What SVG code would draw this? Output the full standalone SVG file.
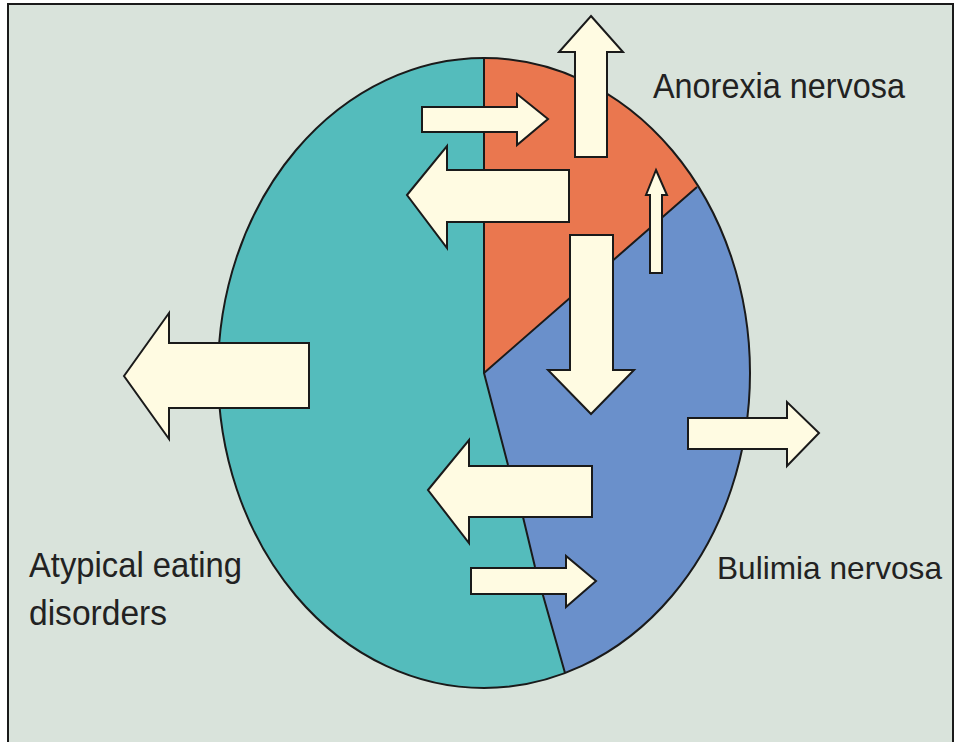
<svg xmlns="http://www.w3.org/2000/svg" width="955" height="742" viewBox="0 0 955 742">
  <defs>
    <clipPath id="oval">
      <ellipse cx="484" cy="373" rx="266" ry="315"/>
    </clipPath>
    <style>
      .lbl { font-family: "Liberation Sans", Arial, sans-serif; font-size: 35px; fill: #222; }
      .arrow { fill: #fffbe2; stroke: #1a1a1a; stroke-width: 2; stroke-linejoin: miter; }
      .edge { fill: none; stroke: #1a1a1a; stroke-width: 2; stroke-linejoin: round; }
    </style>
  </defs>
  <rect x="0" y="0" width="955" height="742" fill="#ffffff"/>
  <rect x="8" y="4" width="945" height="742" fill="#d9e3db"/>
  <path d="M8,742 V4 H953 V742" fill="none" stroke="#1a1a1a" stroke-width="2"/>

  <g id="atypical">
    <ellipse cx="484" cy="373" rx="266" ry="315" fill="#54bcbc"/>
    <text class="lbl" x="29" y="577" textLength="213" lengthAdjust="spacingAndGlyphs">Atypical eating</text>
    <text class="lbl" x="29" y="625" textLength="138" lengthAdjust="spacingAndGlyphs">disorders</text>
  </g>
  <g id="anorexia">
    <polygon points="484,0 484,373 900,10 900,0" fill="#ea774f" clip-path="url(#oval)"/>
    <text class="lbl" x="653" y="98" textLength="252" lengthAdjust="spacingAndGlyphs">Anorexia nervosa</text>
  </g>
  <g id="bulimia">
    <polygon points="484,373 508,465 523,517 535,567 565,673 585,742 900,742 900,10" fill="#6a90cb" clip-path="url(#oval)"/>
    <text class="lbl" x="717" y="579" style="font-size:32px" textLength="225" lengthAdjust="spacingAndGlyphs">Bulimia nervosa</text>
  </g>
  <g id="outline">
    <ellipse class="edge" cx="484" cy="373" rx="266" ry="315"/>
    <polyline class="edge" points="484,59 484,373 697,187"/>
    <polyline class="edge" points="484,373 508,465 523,517 535,567 565,673"/>
  </g>

  <g id="connectors">
    <polygon class="arrow" points="422,107 517,107 517,94 548,119 517,145 517,132 422,132"/>
    <polygon class="arrow" points="407,195 447,146 447,170 569,170 569,222 447,222 447,248"/>
    <polygon class="arrow" points="591,16 623,52 607,52 607,157 575,157 575,52 559,52"/>
    <polygon class="arrow" points="656,170 667,195 662,195 662,273 650,273 650,195 646,195"/>
    <polygon class="arrow" points="570,235 613,235 613,370 634,370 591,414 548,370 570,370"/>
    <polygon class="arrow" points="124,376 169,313 169,343 309,343 309,408 169,408 169,439"/>
    <polygon class="arrow" points="688,418 787,418 787,402 819,433 787,466 787,449 688,449"/>
    <polygon class="arrow" points="428,490 469,440 469,466 592,466 592,517 469,517 469,543"/>
    <polygon class="arrow" points="471,568 566,568 566,556 596,581 566,607 566,594 471,594"/>
  </g>
</svg>
